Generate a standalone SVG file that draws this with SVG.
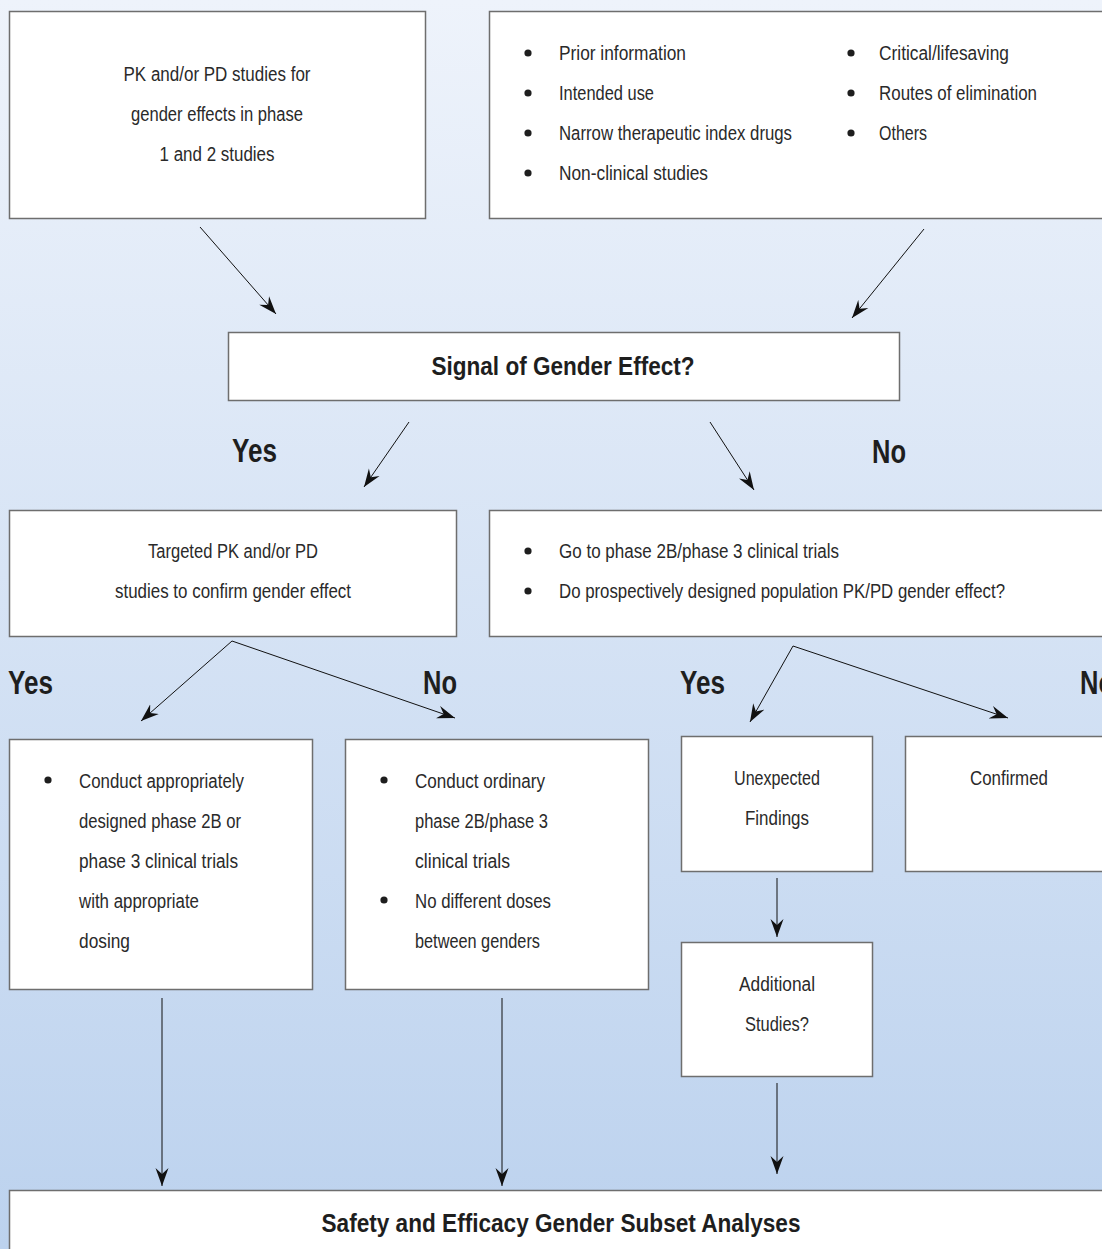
<svg xmlns="http://www.w3.org/2000/svg" width="1102" height="1249" viewBox="0 0 1102 1249">
<defs>
<linearGradient id="bg" x1="0" y1="0" x2="0" y2="1">
<stop offset="0" stop-color="#eef3fb"/>
<stop offset="1" stop-color="#bcd2ee"/>
</linearGradient>
<marker id="ah" markerUnits="userSpaceOnUse" markerWidth="20" markerHeight="14" refX="18" refY="7" orient="auto">
<path d="M0,0.5 L18,7 L0,13.5 L6,7 Z" fill="#111"/>
</marker>
<style>
.box{fill:#fff;stroke:#6e6e6e;stroke-width:1.5}
.t{font-family:"Liberation Sans Narrow","Liberation Sans",Arial,sans-serif;font-size:20px;fill:#2a2a2a}
.c{text-anchor:middle}
.b{font-family:"Liberation Sans Narrow","Liberation Sans",Arial,sans-serif;font-weight:bold;fill:#1e1e1e}
.h{font-size:25px}
.yn{font-size:33px}
.dot{fill:#1e1e1e}
.ln{stroke:#111;stroke-width:1;fill:none;marker-end:url(#ah)}
</style>
</defs>
<rect x="0" y="0" width="1102" height="1249" fill="url(#bg)"/>

<g id="n-pk">
<rect class="box" x="9.5" y="11.5" width="416" height="207"/>
<text class="t c" x="217" y="81" textLength="187" lengthAdjust="spacingAndGlyphs">PK and/or PD studies for</text>
<text class="t c" x="217" y="121" textLength="172" lengthAdjust="spacingAndGlyphs">gender effects in phase</text>
<text class="t c" x="217" y="161" textLength="115" lengthAdjust="spacingAndGlyphs">1 and 2 studies</text>
</g>

<g id="n-factors">
<rect class="box" x="489.5" y="11.5" width="620" height="207"/>
<circle class="dot" cx="528" cy="53" r="3.6"/>
<circle class="dot" cx="528" cy="93" r="3.6"/>
<circle class="dot" cx="528" cy="133" r="3.6"/>
<circle class="dot" cx="528" cy="173" r="3.6"/>
<circle class="dot" cx="851" cy="53" r="3.6"/>
<circle class="dot" cx="851" cy="93" r="3.6"/>
<circle class="dot" cx="851" cy="133" r="3.6"/>
<text class="t" x="559" y="60" textLength="127" lengthAdjust="spacingAndGlyphs">Prior information</text>
<text class="t" x="559" y="100" textLength="95" lengthAdjust="spacingAndGlyphs">Intended use</text>
<text class="t" x="559" y="140" textLength="233" lengthAdjust="spacingAndGlyphs">Narrow therapeutic index drugs</text>
<text class="t" x="559" y="180" textLength="149" lengthAdjust="spacingAndGlyphs">Non-clinical studies</text>
<text class="t" x="879" y="60" textLength="130" lengthAdjust="spacingAndGlyphs">Critical/lifesaving</text>
<text class="t" x="879" y="100" textLength="158" lengthAdjust="spacingAndGlyphs">Routes of elimination</text>
<text class="t" x="879" y="140" textLength="48" lengthAdjust="spacingAndGlyphs">Others</text>
</g>

<g id="n-signal">
<rect class="box" x="228.5" y="332.5" width="671" height="68"/>
<text class="b h c" x="563" y="375" textLength="263" lengthAdjust="spacingAndGlyphs">Signal of Gender Effect?</text>
</g>

<g id="n-targeted">
<rect class="box" x="9.5" y="510.5" width="447" height="126"/>
<text class="t c" x="233" y="558" textLength="170" lengthAdjust="spacingAndGlyphs">Targeted PK and/or PD</text>
<text class="t c" x="233" y="598" textLength="236" lengthAdjust="spacingAndGlyphs">studies to confirm gender effect</text>
</g>

<g id="n-goto">
<rect class="box" x="489.5" y="510.5" width="620" height="126"/>
<circle class="dot" cx="528" cy="551" r="3.6"/>
<circle class="dot" cx="528" cy="591" r="3.6"/>
<text class="t" x="559" y="558" textLength="280" lengthAdjust="spacingAndGlyphs">Go to phase 2B/phase 3 clinical trials</text>
<text class="t" x="559" y="598" textLength="446" lengthAdjust="spacingAndGlyphs">Do prospectively designed population PK/PD gender effect?</text>
</g>

<g id="n-conduct-appropriate">
<rect class="box" x="9.5" y="739.5" width="303" height="250"/>
<circle class="dot" cx="48" cy="780" r="3.6"/>
<text class="t" x="79" y="788" textLength="165" lengthAdjust="spacingAndGlyphs">Conduct appropriately</text>
<text class="t" x="79" y="828" textLength="162" lengthAdjust="spacingAndGlyphs">designed phase 2B or</text>
<text class="t" x="79" y="868" textLength="159" lengthAdjust="spacingAndGlyphs">phase 3 clinical trials</text>
<text class="t" x="79" y="908" textLength="120" lengthAdjust="spacingAndGlyphs">with appropriate</text>
<text class="t" x="79" y="948" textLength="51" lengthAdjust="spacingAndGlyphs">dosing</text>
</g>

<g id="n-conduct-ordinary">
<rect class="box" x="345.5" y="739.5" width="303" height="250"/>
<circle class="dot" cx="384" cy="780" r="3.6"/>
<circle class="dot" cx="384" cy="900" r="3.6"/>
<text class="t" x="415" y="788" textLength="130" lengthAdjust="spacingAndGlyphs">Conduct ordinary</text>
<text class="t" x="415" y="828" textLength="133" lengthAdjust="spacingAndGlyphs">phase 2B/phase 3</text>
<text class="t" x="415" y="868" textLength="95" lengthAdjust="spacingAndGlyphs">clinical trials</text>
<text class="t" x="415" y="908" textLength="136" lengthAdjust="spacingAndGlyphs">No different doses</text>
<text class="t" x="415" y="948" textLength="125" lengthAdjust="spacingAndGlyphs">between genders</text>
</g>

<g id="n-unexpected">
<rect class="box" x="681.5" y="736.5" width="191" height="135"/>
<text class="t c" x="777" y="785" textLength="86" lengthAdjust="spacingAndGlyphs">Unexpected</text>
<text class="t c" x="777" y="825" textLength="64" lengthAdjust="spacingAndGlyphs">Findings</text>
</g>

<g id="n-confirmed">
<rect class="box" x="905.5" y="736.5" width="210" height="135"/>
<text class="t c" x="1009" y="785" textLength="78" lengthAdjust="spacingAndGlyphs">Confirmed</text>
</g>

<g id="n-additional">
<rect class="box" x="681.5" y="942.5" width="191" height="134"/>
<text class="t c" x="777" y="991" textLength="76" lengthAdjust="spacingAndGlyphs">Additional</text>
<text class="t c" x="777" y="1031" textLength="64" lengthAdjust="spacingAndGlyphs">Studies?</text>
</g>

<g id="n-safety">
<rect class="box" x="9.5" y="1190.5" width="1110" height="80"/>
<text class="b h c" x="561" y="1232" textLength="479" lengthAdjust="spacingAndGlyphs">Safety and Efficacy Gender Subset Analyses</text>
</g>

<g id="labels">
<text class="b yn" x="232" y="462" textLength="45" lengthAdjust="spacingAndGlyphs">Yes</text>
<text class="b yn" x="872" y="463" textLength="34" lengthAdjust="spacingAndGlyphs">No</text>
<text class="b yn" x="8" y="694" textLength="45" lengthAdjust="spacingAndGlyphs">Yes</text>
<text class="b yn" x="423" y="694" textLength="34" lengthAdjust="spacingAndGlyphs">No</text>
<text class="b yn" x="680" y="694" textLength="45" lengthAdjust="spacingAndGlyphs">Yes</text>
<text class="b yn" x="1080" y="694" textLength="34" lengthAdjust="spacingAndGlyphs">No</text>
</g>

<g id="connectors">
<line class="ln" x1="200" y1="227" x2="276" y2="314"/>
<line class="ln" x1="924" y1="229" x2="852" y2="318"/>
<line class="ln" x1="409" y1="422" x2="364" y2="487"/>
<line class="ln" x1="710" y1="422" x2="754" y2="490"/>
<line class="ln" x1="232" y1="641" x2="141" y2="721"/>
<line class="ln" x1="232" y1="641" x2="455" y2="718"/>
<line class="ln" x1="793" y1="646" x2="750" y2="722"/>
<line class="ln" x1="793" y1="646" x2="1008" y2="718"/>
<line class="ln" x1="777" y1="878" x2="777" y2="937"/>
<line class="ln" x1="162" y1="998" x2="162" y2="1186"/>
<line class="ln" x1="502" y1="998" x2="502" y2="1186"/>
<line class="ln" x1="777" y1="1083" x2="777" y2="1174"/>
</g>
</svg>
